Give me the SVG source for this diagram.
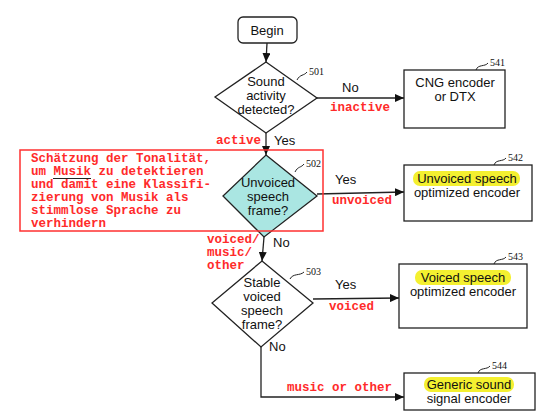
<svg xmlns="http://www.w3.org/2000/svg" width="538" height="420" viewBox="0 0 538 420">
<defs>
<marker id="ah" markerWidth="10" markerHeight="8" refX="9" refY="4" orient="auto" markerUnits="userSpaceOnUse">
<path d="M0,0 L9,4 L0,8 Z" fill="#111"/>
</marker>
<style>
.shape{fill:#fff;stroke:#222;stroke-width:1.3}
.t{font-family:"Liberation Sans",Arial,sans-serif;font-size:13px;fill:#111;text-anchor:middle}
.l{font-family:"Liberation Sans",Arial,sans-serif;font-size:13px;fill:#111}
.n{font-family:"Liberation Serif","Times New Roman",serif;font-size:10px;fill:#111}
.r{font-family:"Liberation Mono","Courier New",monospace;font-size:12.5px;font-weight:bold;fill:#ff2a2a}
.c{fill:none;stroke:#222;stroke-width:1.3}
.sq{fill:none;stroke:#222;stroke-width:1}
.hl{fill:#f4f030}
</style>
</defs>
<rect width="538" height="420" fill="#fff"/>

<g id="connectors">
<line class="c" x1="267" y1="43" x2="266" y2="62" marker-end="url(#ah)"/>
<line class="c" x1="317" y1="98" x2="404" y2="98" marker-end="url(#ah)"/>
<line class="c" x1="266" y1="132" x2="266" y2="155" marker-end="url(#ah)"/>
<line class="c" x1="317" y1="194" x2="404" y2="192" marker-end="url(#ah)"/>
<line class="c" x1="264" y1="237" x2="262" y2="261" marker-end="url(#ah)"/>
<line class="c" x1="313" y1="299" x2="399" y2="298" marker-end="url(#ah)"/>
<polyline class="c" points="261,347 261,397 404,397" marker-end="url(#ah)"/>
</g>

<g id="begin">
<rect class="shape" x="238" y="17" width="59" height="26" rx="5"/>
<text class="t" x="267" y="35">Begin</text>
</g>

<g id="d501">
<polygon class="shape" points="266,62 317,98 266,133 215,97"/>
<text class="t" x="266" y="86">Sound</text>
<text class="t" x="266" y="100">activity</text>
<text class="t" x="266" y="114">detected?</text>
<path class="sq" d="M297,80 C300,74 304,76 307,72"/>
<text class="n" x="309" y="75">501</text>
</g>

<g id="b541">
<rect class="shape" x="404" y="70" width="101" height="58"/>
<text class="t" x="455" y="87">CNG encoder</text>
<text class="t" x="455" y="101">or DTX</text>
<path class="sq" d="M476,70 C478,64 485,67 488,63"/>
<text class="n" x="490" y="66">541</text>
</g>

<g id="d502">
<polygon points="266,155 317,196 264,237 223,196" fill="#aae6e2" stroke="#222" stroke-width="1.3"/>
<text class="t" x="268" y="187">Unvoiced</text>
<text class="t" x="268" y="201">speech</text>
<text class="t" x="268" y="215">frame?</text>
<path class="sq" d="M295,172 C298,166 301,168 304,164"/>
<text class="n" x="306" y="167">502</text>
</g>

<g id="b542">
<rect class="shape" x="404" y="165" width="128" height="56"/>
<rect class="hl" x="413" y="171" width="107" height="15" rx="7"/>
<text class="t" x="467" y="183">Unvoiced speech</text>
<text class="t" x="467" y="197">optimized encoder</text>
<path class="sq" d="M494,165 C496,159 503,162 506,158"/>
<text class="n" x="508" y="161">542</text>
</g>

<g id="d503">
<polygon class="shape" points="262,261 313,303 261,347 212,303"/>
<text class="t" x="262" y="287">Stable</text>
<text class="t" x="262" y="301">voiced</text>
<text class="t" x="262" y="315">speech</text>
<text class="t" x="262" y="329">frame?</text>
<path class="sq" d="M290,279 C293,273 300,276 304,272"/>
<text class="n" x="306" y="275">503</text>
</g>

<g id="b543">
<rect class="shape" x="399" y="264" width="128" height="64"/>
<rect class="hl" x="415" y="270" width="96" height="15" rx="7"/>
<text class="t" x="463" y="282">Voiced speech</text>
<text class="t" x="463" y="296">optimized encoder</text>
<path class="sq" d="M494,264 C496,258 503,261 506,257"/>
<text class="n" x="508" y="260">543</text>
</g>

<g id="b544">
<rect class="shape" x="404" y="373" width="131" height="37"/>
<rect class="hl" x="424" y="377" width="90" height="15" rx="7"/>
<text class="t" x="469" y="389">Generic sound</text>
<text class="t" x="469" y="403">signal encoder</text>
<path class="sq" d="M478,373 C480,367 487,370 490,366"/>
<text class="n" x="492" y="369">544</text>
</g>

<g id="labels">
<text class="l" x="342" y="92">No</text>
<text class="r" x="330" y="111">inactive</text>
<text class="r" x="216" y="144">active</text>
<text class="l" x="274" y="145">Yes</text>
<text class="l" x="335" y="184">Yes</text>
<text class="r" x="332" y="204">unvoiced</text>
<text class="l" x="273" y="247">No</text>
<text class="r" x="207" y="243">voiced/</text>
<text class="r" x="207" y="256">music/</text>
<text class="r" x="207" y="269">other</text>
<text class="l" x="335" y="289">Yes</text>
<text class="r" x="329" y="310">voiced</text>
<text class="l" x="269" y="351">No</text>
<text class="r" x="287" y="391">music or other</text>
</g>

<g id="note">
<rect x="20" y="150" width="303" height="81" fill="none" stroke="#ff3030" stroke-width="1.5"/>
<text class="r" x="31" y="162">Schätzung der Tonalität,</text>
<text class="r" x="31" y="175">um Musik zu detektieren</text>
<text class="r" x="31" y="188">und damit eine Klassifi-</text>
<text class="r" x="31" y="201">zierung von Musik als</text>
<text class="r" x="31" y="214">stimmlose Sprache zu</text>
<text class="r" x="31" y="227">verhindern</text>
<line x1="53" y1="178.5" x2="91" y2="178.5" stroke="#222" stroke-width="1"/>
</g>
</svg>
